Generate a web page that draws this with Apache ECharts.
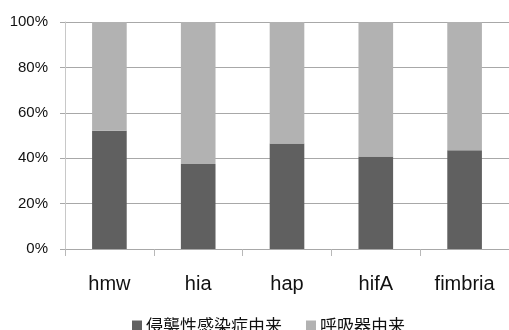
<!DOCTYPE html>
<html>
<head>
<meta charset="utf-8">
<script src="https://cdn.jsdelivr.net/npm/echarts@6/dist/echarts.min.js"></script>
<style>
  html, body { margin: 0; padding: 0; background: #fff; }
  #chart { width: 509px; height: 330px; }
</style>
</head>
<body>
<div id="chart"></div>
<script>
// Adhesin genes and share of isolates by origin (percent)
const categories = ['hmw', 'hia', 'hap', 'hifA', 'fimbria'];
const invasiveShare = [52.1, 37.4, 46.5, 40.8, 43.5];
const respiratoryShare = [47.9, 62.6, 53.5, 59.2, 56.5];
const seriesNames = ['侵襲性感染症由来', '呼吸器由来'];

const chart = echarts.init(document.getElementById('chart'));
chart.setOption({
  animation: false,
  grid: { left: 65, right: 0, top: 22, bottom: 81, containLabel: false },
  legend: {
    data: seriesNames,
    left: 127,
    top: 312,
    itemWidth: 10,
    itemHeight: 10,
    itemGap: 24,
    icon: 'rect',
    textStyle: { fontFamily: 'Noto Sans CJK JP', fontSize: 17, color: '#111', padding: [0, 0, 0, -1] }
  },
  xAxis: {
    type: 'category',
    data: categories,
    axisLine: { lineStyle: { color: '#a8a8a8' } },
    axisTick: { show: true, length: 7, lineStyle: { color: '#b8b8b8' } },
    axisLabel: { margin: 25, fontFamily: 'Liberation Sans', fontSize: 20, color: '#111' }
  },
  yAxis: {
    type: 'value',
    min: 0,
    max: 100,
    interval: 20,
    axisLine: { show: true, lineStyle: { color: '#c8c8c8' } },
    axisTick: { show: true, length: 5, lineStyle: { color: '#a8a8a8' } },
    axisLabel: { margin: 17, fontFamily: 'Liberation Sans', fontSize: 15, color: '#111', formatter: '{value}%' },
    splitLine: { lineStyle: { color: '#a8a8a8' } }
  },
  series: [
    {
      name: seriesNames[0], type: 'bar', stack: 'total', barWidth: '39%',
      itemStyle: { color: '#606060' }, data: invasiveShare
    },
    {
      name: seriesNames[1], type: 'bar', stack: 'total', barWidth: '39%',
      itemStyle: { color: '#b2b2b2' }, data: respiratoryShare
    }
  ]
});
</script>
</body>
</html>
